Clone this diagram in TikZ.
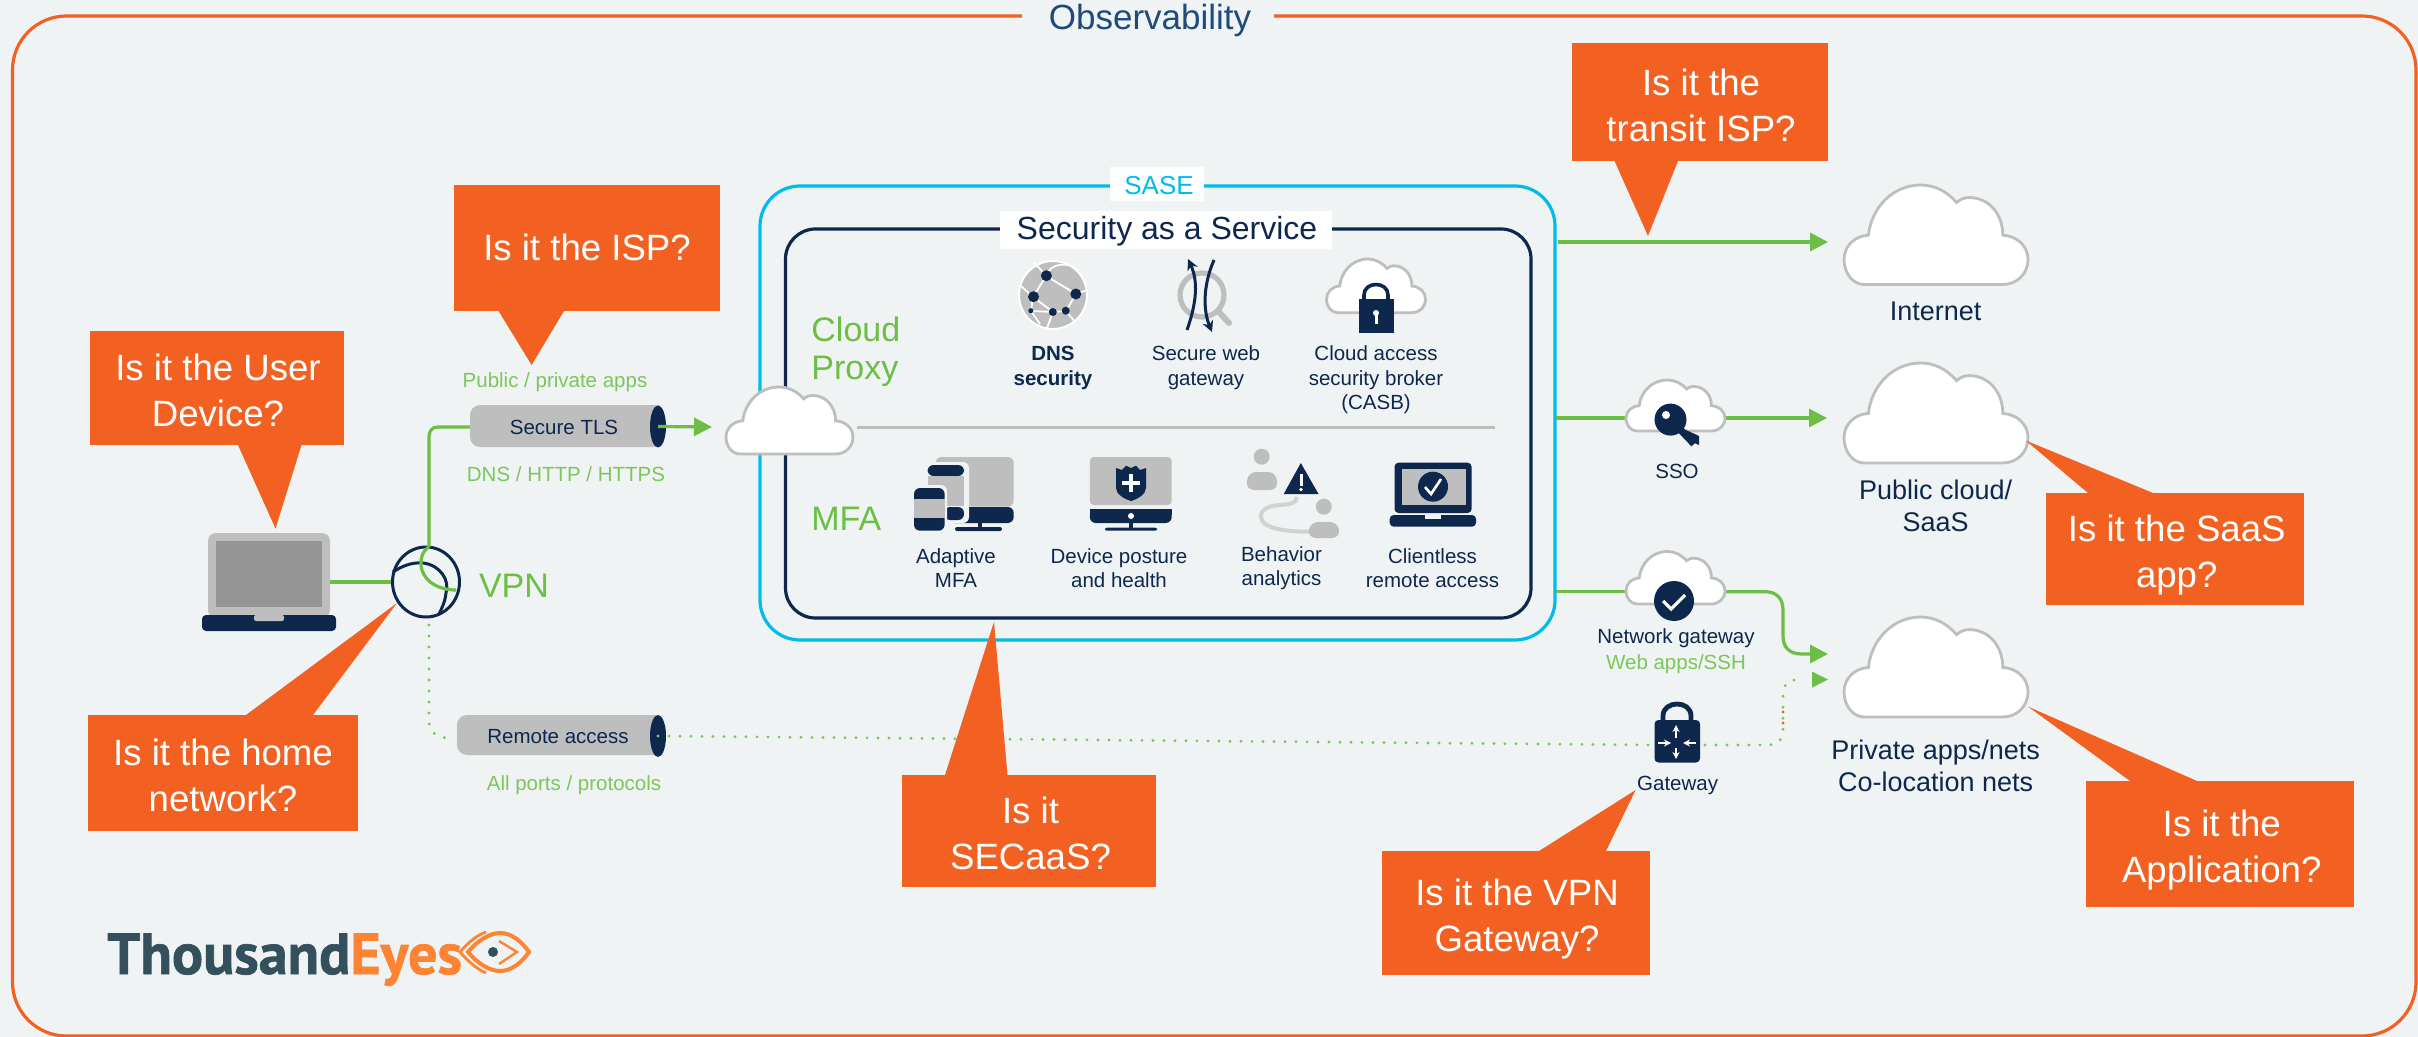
\documentclass[tikz,border=0pt]{standalone}
\usepackage{fontspec}
\setmainfont{Liberation Sans}
\newfontfamily\logofont[BoldFeatures={FakeBold=1.2}]{PT Sans}
\usetikzlibrary{arrows.meta,shapes.geometric,calc}
\definecolor{org}{HTML}{F26122}
\definecolor{grn}{HTML}{6CBE45}
\definecolor{lgrn}{HTML}{7CC75A}
\definecolor{cyn}{HTML}{00BCEB}
\definecolor{nvy}{HTML}{0D274D}
\definecolor{gry}{HTML}{BEBEBE}
\definecolor{dgry}{HTML}{959595}
\definecolor{bgc}{HTML}{EFF3F4}
\definecolor{ttl}{HTML}{1F4A7A}
\definecolor{lognv}{HTML}{33505C}
\definecolor{logor}{HTML}{FE8332}
\tikzset{
 x=0.5pt,y=-0.5pt,
 lab/.style={font=\fontsize{10.25}{12.3}\selectfont,text=nvy,align=center,inner sep=0pt},
 glab/.style={font=\fontsize{10.25}{12}\selectfont,text=lgrn,align=center,inner sep=0pt},
 biglab/.style={font=\fontsize{13.5}{15.8}\selectfont,text=nvy,align=center,inner sep=0pt},
 sect/.style={font=\fontsize{17}{19}\selectfont,text=grn,align=left,inner sep=0pt,anchor=west},
 calltxt/.style={font=\fontsize{18.3}{23}\selectfont,text=white,align=center,inner sep=0pt},
 callbox/.style={fill=org,draw=none},
 gline/.style={draw=grn,line width=1.6pt},
 garrow/.style={gline,-{Triangle[length=9pt,width=9pt]}},
 gdot/.style={draw=lgrn,line width=1.6pt,line cap=round,dash pattern=on 0pt off 5.5pt},
 cloudst/.style={fill=white,draw=gry,line width=1.4pt},
 pipeb/.style={fill=gry,draw=none,rounded corners=5pt},
 pipee/.style={ellipse,fill=nvy,draw=none,minimum width=8pt,minimum height=21pt,inner sep=0pt},
 nv/.style={fill=nvy,draw=none},
 gy/.style={fill=gry,draw=none},
}
\newcommand{\cloudat}[4]{%
 \path[cloudst,shift={(#1,#2)},xscale=#3/438,yscale=#4/238]
 (48,238) -- (378,238) .. controls (412,238) and (438,212) .. (438,178)
 .. controls (438,146) and (412,122) .. (378,120)
 .. controls (378,70) and (345,30) .. (298,30)
 .. controls (288,30) and (278,33) .. (268,42)
 .. controls (245,15) and (215,0) .. (183,0)
 .. controls (115,0) and (65,55) .. (58,120)
 .. controls (25,122) and (0,146) .. (0,178)
 .. controls (0,212) and (22,238) .. (48,238) -- cycle;}
\begin{document}
\begin{tikzpicture}
\useasboundingbox[fill=bgc] (0,0) rectangle (2418,1037);
% frame
\draw[org,line width=1.6pt,rounded corners=27pt] (12.5,16) rectangle (2416,1036);
\fill[bgc] (1022,5) rectangle (1274,30);
\node[font=\fontsize{17.5}{20}\selectfont,text=ttl,inner sep=0pt] (obs) at (1150,20) {Observability};

% SASE boxes
\draw[cyn,line width=1.6pt,rounded corners=20pt] (760,186) rectangle (1555,640);
\draw[nvy,line width=1.6pt,rounded corners=15pt] (785.5,229) rectangle (1531,618);
\fill[white] (1110,167) rectangle (1204,200.7);
\node[font=\fontsize{13}{15}\selectfont,text=cyn,inner sep=0pt] (sase) at (1159,185.7) {SASE};
\fill[white] (1000,211) rectangle (1332,249);
\node[font=\fontsize{16}{19}\selectfont,text=nvy,inner sep=0pt] (secaas) at (1167,231.5) {Security as a Service};

\node[sect] (cproxy) at (811,352) {Cloud\\Proxy};
\node[sect] (mfa) at (811,519) {MFA};

\coordinate (divL) at (857,427.7);
\coordinate (divR) at (1495,427.7);
\draw[gry,line width=1.5pt] (divL) -- (divR);

% DNS icon
\fill[gry] (1053,295) circle[x radius=34,y radius=34];
\draw[white,line width=1pt] (1053,295) circle[x radius=34,y radius=34];
\begin{scope}[white,line width=0.9pt]
 \draw (1046,276) -- (1034,262);
 \draw (1046,276) -- (1076,294) -- (1087,290);
 \draw (1046,276) .. controls (1050,262) and (1070,262) .. (1078,270);
 \draw (1033,297) -- (1046,276);
 \draw (1033,297) -- (1053,312) -- (1066,311) -- (1076,294);
 \draw (1033,297) -- (1031,311) -- (1040,324);
 \draw (1020,285) -- (1033,297);
 \draw (1053,312) -- (1047,328);
 \draw (1066,311) -- (1075,322);
 \draw (1031,311) -- (1053,312);
\end{scope}
\fill[nvy] (1046.4,275.7) circle[radius=5.5] (1075.8,294) circle[radius=5.5] (1033.5,296.7) circle[radius=5.5]
 (1052.8,312) circle[radius=4] (1065.7,310.7) circle[radius=4] (1030.8,310.7) circle[radius=2.5];
\node[lab,font=\bfseries\fontsize{10.25}{12.3}\selectfont] (ldns) at (1053,368) {DNS\\security};

% Secure web gateway icon
\draw[gry,line width=3pt,line cap=round] (1218,311) -- (1229,323);
\draw[gry,line width=2.6pt] (1202,295) circle[radius=22];
\draw[nvy,line width=1.5pt,-{Stealth[length=5.5pt,width=5.5pt]}] (1187,330) .. controls (1194,310) and (1200,285) .. (1188,259);
\draw[nvy,line width=1.5pt,-{Stealth[length=5.5pt,width=5.5pt]}] (1214,260) .. controls (1203,285) and (1203,310) .. (1212,332);
\node[lab] (lswg) at (1206,368) {Secure web\\gateway};

% CASB icon
\cloudat{1326.5}{259}{99}{53.7}
\fill[nvy] (1358.6,299) rectangle (1393.5,333);
\draw[nvy,line width=1.8pt] (1364,300) -- (1364,295) .. controls (1364,281) and (1388,281) .. (1388,295) -- (1388,300);
\fill[white] (1376,313) circle[radius=3];
\fill[white] (1374.5,313) rectangle (1377.5,324);
\node[lab] (lcasb) at (1376,380) {Cloud access\\security broker\\(CASB)};

% Adaptive MFA icon
\fill[gy,rounded corners=3pt] (935.5,457) rectangle (1013.7,506.7);
\fill[nvy,rounded corners=3pt] (948,507) rectangle (1013.7,523);
\fill[nvy] (978,523) rectangle (982,528);
\fill[nvy,rounded corners=1pt] (955,527) rectangle (1002,531);
\fill[bgc,rounded corners=3pt] (925,462) rectangle (969,523);
\fill[nvy,rounded corners=3pt] (927.5,465) rectangle (964,476);
\fill[gry] (927.5,476) rectangle (964,506);
\fill[nvy,rounded corners=3pt] (944,507) rectangle (964,520);
\fill[bgc,rounded corners=3pt] (911,485) rectangle (947,533);
\fill[nvy,rounded corners=3pt] (914,488) rectangle (944.6,530.7);
\fill[gry] (914,499) rectangle (944.6,518);
\node[lab] (ladapt) at (956,568) {Adaptive\\MFA};

% Device posture icon
\fill[gy,rounded corners=2pt] (1089.8,457) rectangle (1171.7,505);
\fill[nvy,rounded corners=3pt] (1089.8,509) rectangle (1171.7,523);
\fill[nvy] (1089.8,509) rectangle (1171.7,515);
\fill[nvy] (1129,523) rectangle (1133,528);
\fill[nvy,rounded corners=1pt] (1105,527.7) rectangle (1157,530.7);
\fill[white] (1131,516) circle[radius=3];
\fill[nvy] (1116,468) -- (1122,470) -- (1126,465.7) -- (1131,468) -- (1136,465.7) -- (1140,470) -- (1146,468) -- (1146,488) .. controls (1146,494) and (1138,499) .. (1131,501) .. controls (1124,499) and (1116,494) .. (1116,488) -- cycle;
\fill[white] (1129,474) rectangle (1133,492);
\fill[white] (1122,481) rectangle (1140,485);
\node[lab] (ldev) at (1119,568) {Device posture\\and health};

% Behaviour icon
\draw[gry!70,line width=2pt] (1297,497) .. controls (1296,510) and (1270,500) .. (1262,512) .. controls (1256,525) and (1275,532) .. (1310,531.7);
\fill[gry] (1261.7,456.7) circle[x radius=8,y radius=8];
\fill[gry,rounded corners=4pt] (1246,490) -- (1248,472) -- (1276,472) -- (1278,490) -- cycle;
\fill[gry] (1323.8,506.7) circle[radius=8];
\fill[gry,rounded corners=4pt] (1307.8,538) -- (1310,522) -- (1338,522) -- (1340,538) -- cycle;
\fill[nvy] (1300.8,463) -- (1318.5,494) -- (1283.7,494) -- cycle;
\fill[white] (1299.5,474) rectangle (1302.5,486);
\fill[white] (1301,489.5) circle[radius=1.8];
\node[lab] (lbeh) at (1281.5,568) {Behavior\\analytics};

% Clientless icon
\fill[nvy,rounded corners=2pt] (1394.5,462.7) rectangle (1471.6,513);
\fill[gry] (1402,468.7) rectangle (1466,505);
\fill[nvy,rounded corners=2pt] (1389.7,515) rectangle (1476,526.7);
\fill[bgc] (1425,515) rectangle (1441,519);
\fill[nvy] (1433,486.7) circle[radius=15];
\draw[white,line width=1.3pt] (1425,487) -- (1431,494) -- (1441,479);
\node[lab] (lcli) at (1432.5,568) {Clientless\\remote access};

% Laptop
\fill[gy,rounded corners=4pt] (208,533) rectangle (330,618);
\fill[dgry] (216,541) rectangle (322,607);
\fill[nvy,rounded corners=2pt] (202,615) rectangle (336,631);
\fill[gry,rounded corners=1pt] (254,615) rectangle (284,621);
\coordinate (laptop) at (330,582);

% VPN
\node[ellipse,draw=nvy,line width=1.5pt,minimum width=33.5pt,minimum height=35pt,inner sep=0pt] (vpn) at (426,582) {};
\node[font=\fontsize{17}{20}\selectfont,text=grn,inner sep=0pt] (vpnl) at (514,586) {VPN};
\draw[gline] (laptop) -- (vpn.west);
\draw[nvy,line width=1.5pt] (393,572) .. controls (402,566) and (412,562) .. (423,563) .. controls (440,565) and (450,580) .. (446,593) .. controls (445,602) and (442,608) .. (439,614);
\draw[gline] (470,427) -- (438,427) .. controls (432,427) and (429,431) .. (429,437) -- (429,547);
\draw[grn,line width=1.6pt] (429,547) .. controls (420,552) and (420,565) .. (422,570) .. controls (426,583) and (440,590) .. (456,590);

% Pipes
\fill[pipeb] (470,405) rectangle (690,447);
\fill[bgc] (660,400) rectangle (700,450);
\fill[gry] (640,405) rectangle (658,447);
\node[pipee] (tlsend) at (658,426.5) {};
\node[lab] (tls) at (564,427) {Secure TLS};
\node[glab] (pub) at (555,382) {Public / private apps};
\node[glab] (dns) at (566,474.5) {DNS / HTTP / HTTPS};

\fill[pipeb] (457,715) rectangle (690,755);
\fill[bgc] (660,710) rectangle (700,760);
\fill[gry] (640,715) rectangle (658,755);
\node[pipee] (remend) at (658,736) {};
\node[lab] (rem) at (558,737) {Remote access};
\node[glab] (allp) at (574,785) {All ports / protocols};

% TLS cloud and arrow
\cloudat{726}{387}{127}{67}
\coordinate (cloudTLS) at (712,427);
\draw[garrow] (tlsend.center) -- (cloudTLS);

% Dotted
\coordinate (dotA) at (429,625);
\coordinate (dotB) at (449,738);
\draw[gdot] (dotA) -- (429,722) .. controls (429,732) and (438,738) .. (dotB);
\coordinate (lockL) at (1654,745);
\coordinate (lockR) at (1705,745);
\draw[gdot] (remend.center) -- (lockL);
\coordinate (dotEnd) at (1828,679.6);
\draw[gdot,shorten >=16pt] (lockR) -- (1769,745) .. controls (1779,745) and (1783,738) .. (1783,731) -- (1783,694) .. controls (1783,686) and (1787,680) .. (1795,680) -- (dotEnd);
\fill[org] (1783,712) circle[radius=1.6] (1783,723) circle[radius=1.6];
\path[fill=grn] (1828,679.6) -- (1812,671.6) -- (1812,687.6) -- cycle;

% Gateway lock
\fill[nvy,rounded corners=2pt] (1654.5,720) rectangle (1700,762.5);
\draw[nvy,line width=2.4pt] (1663,722) -- (1663,716) .. controls (1663,700) and (1691,700) .. (1691,716) -- (1691,722);
\begin{scope}[white,line width=0.8pt,-{Stealth[length=3.5pt,width=3.5pt]}]
 \draw (1658,743) -- (1671,743);
 \draw (1696,743) -- (1683,743);
 \draw (1676,738) -- (1676,725);
 \draw (1676,748) -- (1676,759);
\end{scope}
\node[lab] (gw) at (1677.6,785) {Gateway};

% Right clouds
\cloudat{1844}{185}{184}{99.5}
\cloudat{1844}{363}{184}{100}
\cloudat{1844}{617}{184}{100}
\node[biglab] (inet) at (1935.6,311.4) {Internet};
\node[biglab] (pubc) at (1935.6,506) {Public cloud/\\SaaS};
\node[biglab] (priv) at (1935.6,766) {Private apps/nets\\Co-location nets};

% Right connectors
\coordinate (s1) at (1558,242);
\coordinate (e1) at (1828,242);
\draw[garrow] (s1) -- (e1);
\coordinate (s2) at (1555.6,418);
\coordinate (e2) at (1827,418);
\draw[garrow] (s2) -- (e2);
\coordinate (s3) at (1555.6,591.7);
\coordinate (e3) at (1828,654);
\draw[gline] (s3) -- (1626,591.7);
\draw[garrow] (1725,591.7) -- (1765,591.7) .. controls (1776,591.7) and (1783,598) .. (1783,610) -- (1783,636) .. controls (1783,648) and (1790,654) .. (1802,654) -- (e3);

% SSO
\cloudat{1626}{380}{99}{51}
\fill[nvy] (1670.5,419.6) circle[radius=16];
\draw[nvy,line width=3.5pt] (1675,424) -- (1694,444);
\fill[nvy] (1686,430) -- (1699,436) -- (1699,445) -- (1690,441) -- cycle;
\fill[white] (1666,415) circle[radius=4];
\node[lab] (sso) at (1677,471.5) {SSO};

% Network gateway
\cloudat{1626}{551.5}{99}{52.5}
\fill[nvy] (1674,601) circle[radius=20];
\draw[white,line width=1.6pt] (1663,601) -- (1671,609) -- (1685,595);
\node[lab] (ngw) at (1676,638) {Network gateway};
\node[glab] (web) at (1676,664) {Web apps/SSH};

% Callouts
\fill[callbox] (90,331) rectangle (344,445);
\fill[callbox] (238,445) -- (301.5,445) -- (275.5,528.6) -- cycle;
\node[calltxt] (c1) at (218,390) {Is it the User\\Device?};

\fill[callbox] (454,185) rectangle (720,311);
\fill[callbox] (498.5,311) -- (564,311) -- (531.6,365) -- cycle;
\node[calltxt] (c2) at (587,247) {Is it the ISP?};

\fill[callbox] (88,715) rectangle (358,831);
\fill[callbox] (246,715) -- (313,715) -- (397,603) -- cycle;
\node[calltxt] (c3) at (223,775) {Is it the home\\network?};

\fill[callbox] (902,775) rectangle (1156,887);
\fill[callbox] (945,775) -- (1007.5,775) -- (994,621.7) -- cycle;
\node[calltxt] (c4) at (1030.5,833) {Is it\\SECaaS?};

\fill[callbox] (1382,851) rectangle (1650,975);
\fill[callbox] (1539,851) -- (1606,851) -- (1635.6,790) -- cycle;
\node[calltxt] (c5) at (1517,919) {Is it the VPN\\Gateway?};

\fill[callbox] (1572,43) rectangle (1828,161);
\fill[callbox] (1614.5,161) -- (1678,161) -- (1648,236) -- cycle;
\node[calltxt] (c6) at (1701,105) {Is it the\\transit ISP?};

\fill[callbox] (2046,493) rectangle (2304,604.6);
\fill[callbox] (2088,493) -- (2153,493) -- (2025.7,440.5) -- cycle;
\node[calltxt] (c7) at (2176.7,555) {Is it the SaaS\\app?};

\fill[callbox] (2086,781) rectangle (2354,907.4);
\fill[callbox] (2130,781) -- (2197,781) -- (2028,706.6) -- cycle;
\node[calltxt] (c8) at (2221.7,850.5) {Is it the\\Application?};

% Logo
\node[anchor=base west,inner sep=0pt,font=\logofont\bfseries\fontsize{29}{30}\selectfont] (logo) at (107,974) {\textcolor{lognv}{Thousand}\textcolor{logor}{Eyes}};
\draw[logor,line width=2pt] (468,952) .. controls (478,940) and (490,933) .. (500,933) .. controls (512,933) and (522,942) .. (529,952) .. controls (522,962) and (512,971) .. (500,971) .. controls (490,971) and (478,964) .. (468,952) -- cycle;
\draw[logor,line width=1.4pt] (486,932) .. controls (475,936) and (467,944) .. (460,952) .. controls (467,960) and (475,968) .. (486,973);
\draw[logor,line width=1.2pt] (499,941) -- (517,952) -- (499,964);
\fill[lognv] (493,952) circle[radius=5];
\end{tikzpicture}
\end{document}
